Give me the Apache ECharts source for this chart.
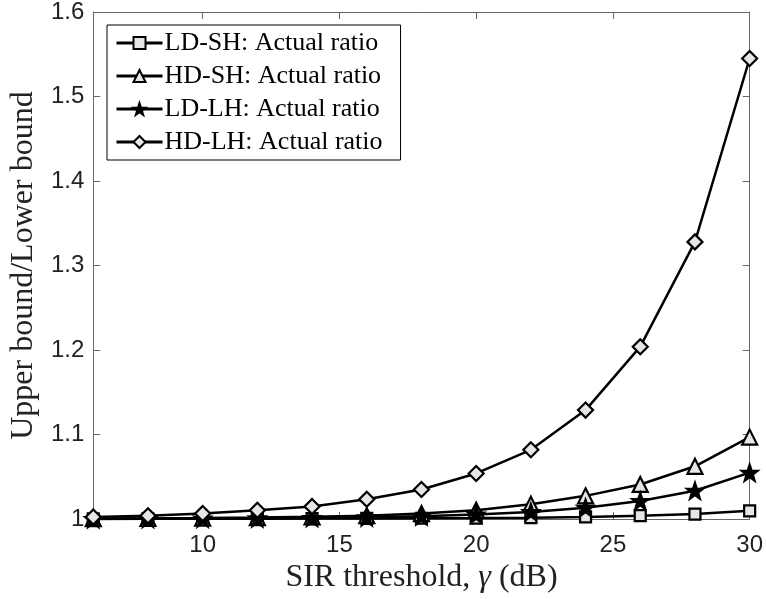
<!DOCTYPE html>
<html>
<head>
<meta charset="utf-8">
<script src="https://cdn.jsdelivr.net/npm/echarts@6/dist/echarts.min.js"></script>
<style>
  html, body { margin: 0; padding: 0; background: #fff; }
  #chart { width: 766px; height: 599px; }
</style>
</head>
<body>
<div id="chart"></div>
<script>
// SIR threshold (dB)
const sirThreshold = [6, 8, 10, 12, 14, 16, 18, 20, 22, 24, 26, 28, 30];

// Ratio of upper bound to lower bound for each scenario
const ldShRatio = [1.0002, 1.0003, 1.0004, 1.0005, 1.0006, 1.0008, 1.0010, 1.0012, 1.0017, 1.0026, 1.0040, 1.0060, 1.0098];
const hdShRatio = [1.0005, 1.0008, 1.0012, 1.0018, 1.0027, 1.0040, 1.0065, 1.0105, 1.0175, 1.0275, 1.0410, 1.0625, 1.0970];
const ldLhRatio = [1.0003, 1.0005, 1.0007, 1.0010, 1.0015, 1.0022, 1.0035, 1.0055, 1.0085, 1.0135, 1.0215, 1.0335, 1.0550];
const hdLhRatio = [1.0024, 1.0040, 1.0067, 1.0105, 1.0150, 1.0235, 1.0350, 1.0540, 1.0820, 1.1290, 1.2040, 1.3280, 1.5450];

const seriesNames = ['LD-SH: Actual ratio', 'HD-SH: Actual ratio', 'LD-LH: Actual ratio', 'HD-LH: Actual ratio'];
const xTickValues = [10, 15, 20, 25, 30];

const STAR = 'path://M0,-10L2.35,-3.24L9.51,-3.09L3.8,1.24L5.88,8.09L0,4L-5.88,8.09L-3.8,1.24L-9.51,-3.09L-2.35,-3.24Z';

const pair = ys => sirThreshold.map((x, i) => [x, ys[i]]);

function makeSeries(name, ys, symbol, size, fill) {
  return {
    name: name,
    type: 'line',
    data: pair(ys),
    symbol: symbol,
    symbolSize: size,
    showAllSymbol: true,
    clip: false,
    lineStyle: { color: '#000', width: 2.5 },
    itemStyle: { color: fill, borderColor: '#000', borderWidth: 2.2 },
    emphasis: { disabled: true },
    animation: false
  };
}

const axisColor = '#666';
const sansFont = 'Liberation Sans, Arial, sans-serif';
const serifFont = 'Liberation Serif, Times New Roman, serif';

const chart = echarts.init(document.getElementById('chart'), null, { renderer: 'canvas' });
chart.setOption({
  backgroundColor: '#fff',
  animation: false,
  grid: { left: 92, right: 15, top: 10, bottom: 79, containLabel: false },
  legend: {
    left: 107,
    top: 25,
    orient: 'vertical',
    data: seriesNames,
    itemWidth: 46,
    itemHeight: 15,
    itemGap: 7,
    padding: [5, 18, 5, 8],
    borderColor: '#000',
    borderWidth: 1,
    backgroundColor: '#fff',
    lineStyle: { width: 3, color: '#000' },
    textStyle: { fontFamily: serifFont, fontSize: 26, color: '#000', padding: [0, 0, 0, -3] }
  },
  xAxis: [{
    type: 'value',
    min: 6,
    max: 30,
    name: 'SIR threshold, {g|γ} (dB)',
    nameLocation: 'middle',
    nameGap: 39,
    nameTextStyle: {
      fontFamily: serifFont, fontSize: 32, color: '#222',
      rich: { g: { fontFamily: serifFont, fontStyle: 'italic', fontSize: 32, color: '#222' } }
    },
    axisLine: { show: true, lineStyle: { color: axisColor, width: 1 } },
    axisTick: { show: true, inside: true, length: 7, customValues: xTickValues, lineStyle: { color: axisColor } },
    axisLabel: { customValues: xTickValues, fontFamily: sansFont, fontSize: 24, color: '#222', margin: 14 },
    splitLine: { show: false }
  }, {
    type: 'value',
    position: 'top',
    min: 6,
    max: 30,
    axisLine: { show: true, lineStyle: { color: axisColor, width: 1 } },
    axisTick: { show: true, inside: true, length: 7, customValues: xTickValues, lineStyle: { color: axisColor } },
    axisLabel: { show: false },
    splitLine: { show: false }
  }],
  yAxis: [{
    type: 'value',
    min: 1,
    max: 1.6,
    interval: 0.1,
    name: 'Upper bound/Lower bound',
    nameLocation: 'middle',
    nameGap: 52,
    nameTextStyle: { fontFamily: serifFont, fontSize: 32, color: '#222' },
    axisLine: { show: true, lineStyle: { color: axisColor, width: 1 } },
    axisTick: { show: true, inside: true, length: 7, lineStyle: { color: axisColor } },
    axisLabel: { fontFamily: sansFont, fontSize: 24, color: '#222', margin: 9,
      formatter: v => (Math.round(v * 10) / 10).toString() },
    splitLine: { show: false }
  }, {
    type: 'value',
    position: 'right',
    min: 1,
    max: 1.6,
    interval: 0.1,
    axisLine: { show: true, lineStyle: { color: axisColor, width: 1 } },
    axisTick: { show: true, inside: true, length: 7, lineStyle: { color: axisColor } },
    axisLabel: { show: false },
    splitLine: { show: false }
  }],
  series: [
    makeSeries(seriesNames[0], ldShRatio, 'rect', 11, '#e6e6e6'),
    makeSeries(seriesNames[1], hdShRatio, 'triangle', 15, '#e6e6e6'),
    makeSeries(seriesNames[2], ldLhRatio, STAR, 16, '#000'),
    makeSeries(seriesNames[3], hdLhRatio, 'diamond', 15, '#e6e6e6')
  ]
});
</script>
</body>
</html>
